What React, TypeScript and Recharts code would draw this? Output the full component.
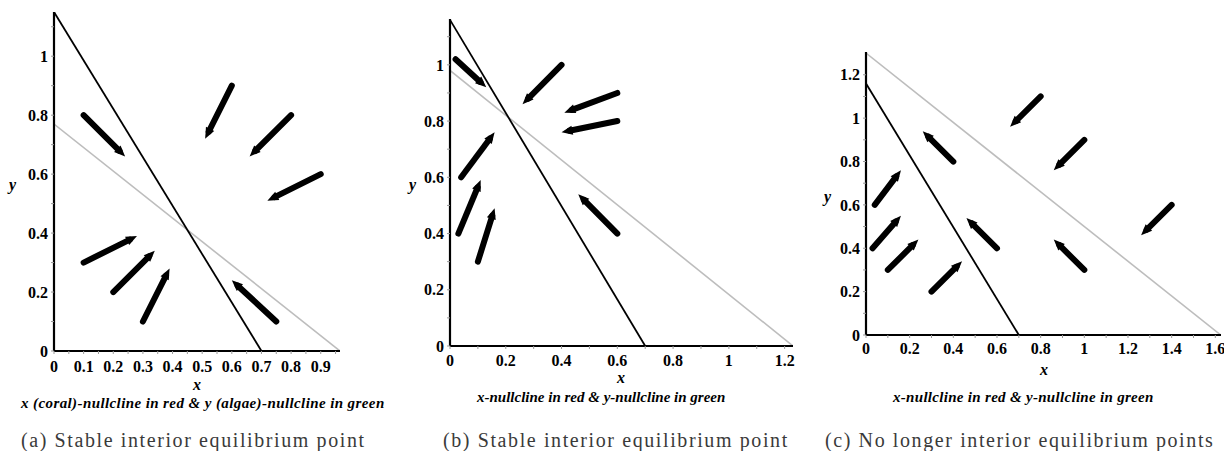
import React from 'react';
import { LineChart, Line, XAxis, YAxis, ReferenceLine } from 'recharts';

type Pt = { x: number; y: number };
type Arrow = [Pt, Pt];

// panel (a)
const xNullA: Pt[] = [{ x: 0, y: 1.15 }, { x: 0.7, y: 0 }];
const yNullA: Pt[] = [{ x: 0, y: 0.77 }, { x: 0.965, y: 0 }];
const arrowsA: Arrow[] = [
  [{ x: 0.1, y: 0.8 }, { x: 0.24, y: 0.66 }],
  [{ x: 0.6, y: 0.9 }, { x: 0.51, y: 0.72 }],
  [{ x: 0.8, y: 0.8 }, { x: 0.66, y: 0.66 }],
  [{ x: 0.9, y: 0.6 }, { x: 0.72, y: 0.51 }],
  [{ x: 0.1, y: 0.3 }, { x: 0.28, y: 0.39 }],
  [{ x: 0.2, y: 0.2 }, { x: 0.34, y: 0.34 }],
  [{ x: 0.3, y: 0.1 }, { x: 0.39, y: 0.28 }],
  [{ x: 0.75, y: 0.1 }, { x: 0.6, y: 0.24 }],
];
const xTicksA = [0, 0.05, 0.1, 0.15, 0.2, 0.25, 0.3, 0.35, 0.4, 0.45, 0.5, 0.55, 0.6, 0.65, 0.7, 0.75, 0.8, 0.85, 0.9, 0.95];
const xLabelsA = [0, 0.1, 0.2, 0.3, 0.4, 0.5, 0.6, 0.7, 0.8, 0.9];
const yTicksA = [0, 0.1, 0.2, 0.3, 0.4, 0.5, 0.6, 0.7, 0.8, 0.9, 1, 1.1];
const yLabelsA = [0, 0.2, 0.4, 0.6, 0.8, 1];

// panel (b)
const xNullB: Pt[] = [{ x: 0, y: 1.16 }, { x: 0.7, y: 0 }];
const yNullB: Pt[] = [{ x: 0, y: 0.98 }, { x: 1.23, y: 0 }];
const arrowsB: Arrow[] = [
  [{ x: 0.02, y: 1.02 }, { x: 0.13, y: 0.92 }],
  [{ x: 0.4, y: 1.0 }, { x: 0.26, y: 0.86 }],
  [{ x: 0.6, y: 0.9 }, { x: 0.41, y: 0.83 }],
  [{ x: 0.6, y: 0.8 }, { x: 0.4, y: 0.76 }],
  [{ x: 0.04, y: 0.6 }, { x: 0.16, y: 0.76 }],
  [{ x: 0.03, y: 0.4 }, { x: 0.11, y: 0.59 }],
  [{ x: 0.1, y: 0.3 }, { x: 0.16, y: 0.49 }],
  [{ x: 0.6, y: 0.4 }, { x: 0.46, y: 0.54 }],
];
const xTicksB = [0, 0.1, 0.2, 0.3, 0.4, 0.5, 0.6, 0.7, 0.8, 0.9, 1, 1.1, 1.2];
const xLabelsB = [0, 0.2, 0.4, 0.6, 0.8, 1, 1.2];
const yTicksB = [0, 0.1, 0.2, 0.3, 0.4, 0.5, 0.6, 0.7, 0.8, 0.9, 1, 1.1];
const yLabelsB = [0, 0.2, 0.4, 0.6, 0.8, 1];

// panel (c)
const xNullC: Pt[] = [{ x: 0, y: 1.16 }, { x: 0.7, y: 0 }];
const yNullC: Pt[] = [{ x: 0, y: 1.3 }, { x: 1.625, y: 0 }];
const arrowsC: Arrow[] = [
  [{ x: 0.8, y: 1.1 }, { x: 0.66, y: 0.96 }],
  [{ x: 1.0, y: 0.9 }, { x: 0.86, y: 0.76 }],
  [{ x: 1.4, y: 0.6 }, { x: 1.26, y: 0.46 }],
  [{ x: 0.4, y: 0.8 }, { x: 0.26, y: 0.94 }],
  [{ x: 0.6, y: 0.4 }, { x: 0.46, y: 0.54 }],
  [{ x: 1.0, y: 0.3 }, { x: 0.86, y: 0.44 }],
  [{ x: 0.04, y: 0.6 }, { x: 0.16, y: 0.76 }],
  [{ x: 0.03, y: 0.4 }, { x: 0.16, y: 0.55 }],
  [{ x: 0.1, y: 0.3 }, { x: 0.24, y: 0.44 }],
  [{ x: 0.3, y: 0.2 }, { x: 0.44, y: 0.34 }],
];
const xTicksC = [0, 0.1, 0.2, 0.3, 0.4, 0.5, 0.6, 0.7, 0.8, 0.9, 1, 1.1, 1.2, 1.3, 1.4, 1.5, 1.6];
const xLabelsC = [0, 0.2, 0.4, 0.6, 0.8, 1, 1.2, 1.4, 1.6];
const yTicksC = [0, 0.1, 0.2, 0.3, 0.4, 0.5, 0.6, 0.7, 0.8, 0.9, 1, 1.1, 1.2];
const yLabelsC = [0, 0.2, 0.4, 0.6, 0.8, 1, 1.2];

const SERIF = '"Liberation Serif", "Times New Roman", Tinos, "DejaVu Serif", serif';

const near = (v: number, list: number[]) => list.some((l) => Math.abs(l - v) < 1e-6);

const ArrowShape = (props: any) => {
  const { x1, y1, x2, y2 } = props;
  if ([x1, y1, x2, y2].some((v) => typeof v !== 'number' || isNaN(v))) return <g />;
  const dx = x2 - x1;
  const dy = y2 - y1;
  const len = Math.sqrt(dx * dx + dy * dy) || 1;
  const ux = dx / len;
  const uy = dy / len;
  const px = -uy;
  const py = ux;
  const headLen = 11;
  const headW = 4.6;
  const bx = x2 - ux * headLen;
  const by = y2 - uy * headLen;
  return (
    <g>
      <line x1={x1} y1={y1} x2={bx + ux * 3} y2={by + uy * 3} stroke="#000" strokeWidth={6} strokeLinecap="round" />
      <polygon
        points={`${x2},${y2} ${bx + px * headW},${by + py * headW} ${bx - px * headW},${by - py * headW}`}
        fill="#000"
      />
    </g>
  );
};

const tickFont = { fontFamily: SERIF, fontWeight: 700, fontSize: 16, fill: '#000' };

type PanelProps = {
  left: number;
  width: number;
  height: number;
  top: number;
  xAxisH: number;
  xMax: number;
  yMax: number;
  xTicks: number[];
  xLabels: number[];
  yTicks: number[];
  yLabels: number[];
  xNull: Pt[];
  yNull: Pt[];
  arrows: Arrow[];
  tickGap: number;
};

function Panel(p: PanelProps) {
  return (
    <div style={{ position: 'absolute', left: p.left, top: 0 }}>
      <LineChart width={p.width} height={p.height} margin={{ top: p.top, right: 3, left: 0, bottom: 0 }}>
        <XAxis
          type="number"
          dataKey="x"
          domain={[0, p.xMax]}
          allowDataOverflow
          ticks={p.xTicks}
          interval={0}
          tickFormatter={(v: number) => (near(v, p.xLabels) ? String(v) : '')}
          height={p.xAxisH}
          axisLine={{ stroke: '#000', strokeWidth: 2.2 }}
          tickLine={{ stroke: '#999', strokeWidth: 1 }}
          tickSize={3}
          tickMargin={p.tickGap}
          tick={tickFont}
        />
        <YAxis
          type="number"
          dataKey="y"
          domain={[0, p.yMax]}
          allowDataOverflow
          ticks={p.yTicks}
          interval={0}
          tickFormatter={(v: number) => (near(v, p.yLabels) ? String(v) : '')}
          width={54}
          axisLine={{ stroke: '#000', strokeWidth: 2.2 }}
          tickLine={{ stroke: '#999', strokeWidth: 1 }}
          tickSize={3}
          tickMargin={3}
          tick={tickFont}
        />
        <Line data={p.yNull} dataKey="y" stroke="#bdbdbd" strokeWidth={1.6} dot={false} isAnimationActive={false} />
        <Line data={p.xNull} dataKey="y" stroke="#000" strokeWidth={1.8} dot={false} isAnimationActive={false} />
        {p.arrows.map((a, i) => (
          <ReferenceLine key={i} segment={[a[0], a[1]]} shape={ArrowShape} ifOverflow="visible" />
        ))}
      </LineChart>
    </div>
  );
}

const axisLetter: React.CSSProperties = {
  position: 'absolute',
  fontFamily: SERIF,
  fontWeight: 700,
  fontStyle: 'italic',
  fontSize: 16,
  color: '#000',
  lineHeight: '16px',
};

const subtitle: React.CSSProperties = {
  position: 'absolute',
  fontFamily: SERIF,
  fontWeight: 700,
  fontStyle: 'italic',
  fontSize: 15,
  color: '#000',
  whiteSpace: 'nowrap',
  lineHeight: '16px',
};

const caption: React.CSSProperties = {
  position: 'absolute',
  fontFamily: SERIF,
  fontSize: 20,
  color: '#3a3a3a',
  whiteSpace: 'nowrap',
  lineHeight: '22px',
  letterSpacing: 1.6,
};

export default function App() {
  return (
    <div style={{ position: 'absolute', left: 0, top: 0, width: 1231, height: 451, background: '#fff', overflow: 'hidden' }}>
      <Panel left={0} width={343} height={400} top={12} xAxisH={49} xMax={0.965} yMax={1.15}
        xTicks={xTicksA} xLabels={xLabelsA} yTicks={yTicksA} yLabels={yLabelsA}
        xNull={xNullA} yNull={yNullA} arrows={arrowsA} tickGap={7} />
      <Panel left={396} width={400} height={400} top={19} xAxisH={54} xMax={1.23} yMax={1.163}
        xTicks={xTicksB} xLabels={xLabelsB} yTicks={yTicksB} yLabels={yLabelsB}
        xNull={xNullB} yNull={yNullB} arrows={arrowsB} tickGap={6} />
      <Panel left={812} width={412} height={390} top={52} xAxisH={55} xMax={1.626} yMax={1.305}
        xTicks={xTicksC} xLabels={xLabelsC} yTicks={yTicksC} yLabels={yLabelsC}
        xNull={xNullC} yNull={yNullC} arrows={arrowsC} tickGap={5} />

      <div style={{ ...axisLetter, left: 9, top: 177 }}>y</div>
      <div style={{ ...axisLetter, left: 409, top: 177 }}>y</div>
      <div style={{ ...axisLetter, left: 824, top: 189 }}>y</div>

      <div style={{ ...axisLetter, left: 193, top: 377 }}>x</div>
      <div style={{ ...axisLetter, left: 617, top: 370 }}>x</div>
      <div style={{ ...axisLetter, left: 1040, top: 362 }}>x</div>

      <div style={{ ...subtitle, left: 21, top: 395, letterSpacing: 0.4 }}>x (coral)-nullcline in red &amp; y (algae)-nullcline in green</div>
      <div style={{ ...subtitle, left: 477, top: 389 }}>x-nullcline in red &amp; y-nullcline in green</div>
      <div style={{ ...subtitle, left: 893, top: 389, letterSpacing: 0.3 }}>x-nullcline in red &amp; y-nullcline in green</div>

      <div style={{ ...caption, left: 21, top: 429 }}>(a) Stable interior equilibrium point</div>
      <div style={{ ...caption, left: 443, top: 429 }}>(b) Stable interior equilibrium point</div>
      <div style={{ ...caption, left: 825, top: 429 }}>(c) No longer interior equilibrium points</div>
    </div>
  );
}
